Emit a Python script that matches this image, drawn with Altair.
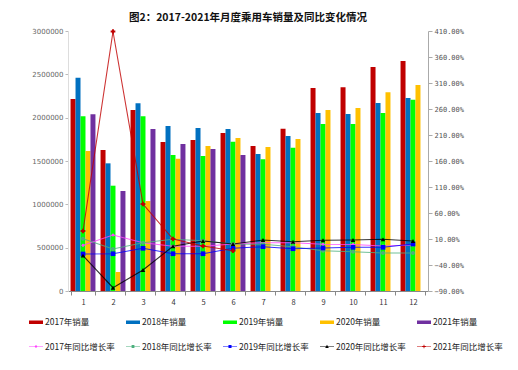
import altair as alt
import pandas as pd

months = list(range(1, 13))
years = ["2017", "2018", "2019", "2020", "2021"]

sales_2017 = [2215000, 1627000, 2088000, 1719000, 1742000, 1823000, 1673000, 1873000, 2342000, 2350000, 2585000, 2654000]
sales_2018 = [2460000, 1473000, 2165000, 1904000, 1881000, 1869000, 1581000, 1788000, 2054000, 2042000, 2169000, 2227000]
sales_2019 = [2015000, 1215000, 2015000, 1569000, 1558000, 1723000, 1520000, 1654000, 1927000, 1927000, 2054000, 2208000]
sales_2020 = [1615000, 219000, 1038000, 1527000, 1673000, 1765000, 1661000, 1754000, 2088000, 2112000, 2292000, 2377000]
sales_2021 = [2040000, 1154000, 1869000, 1696000, 1638000, 1569000]

rate_2017 = [-2.1, 17.7, 2.9, -4.0, -4.0, 0.4, 2.9, 2.9, -0.2, -0.5, -3.5, -1.5]
rate_2018 = [10.6, -9.2, 2.9, 9.4, 6.7, 0.4, -0.2, -4.8, -12.5, -14.4, -16.9, -16.9]
rate_2019 = [-18.8, -18.3, -7.9, -18.3, -18.3, -7.9, -4.8, -8.7, -7.3, -6.0, -6.0, 0.4]
rate_2020 = [-22.0, -83.7, -49.6, -4.0, 6.2, 0.4, 8.0, 4.8, 7.5, 8.0, 9.4, 6.2]
rate_2021 = [25.4, 409.0, 77.3, 10.0, -3.5, -12.5]

sales_labels = [f"{y}年销量" for y in years]
rate_labels = [f"{y}年同比增长率" for y in years]
bar_colors = ["#C00000", "#0070C0", "#00FF00", "#FFC000", "#7030A0"]
line_colors = ["#FF44FF", "#4DB07E", "#0000FF", "#000000", "#C00000"]

sales_lists = [sales_2017, sales_2018, sales_2019, sales_2020, sales_2021]
rate_lists = [rate_2017, rate_2018, rate_2019, rate_2020, rate_2021]

bar_rows = []
for y, lab, vals in zip(years, sales_labels, sales_lists):
    for m, v in zip(months, vals):
        bar_rows.append({"month": m, "year": y, "value": v, "series": lab})
bar_df = pd.DataFrame(bar_rows)

rate_rows = []
for y, lab, vals in zip(years, rate_labels, rate_lists):
    for m, v in zip(months, vals):
        rate_rows.append({"month": m, "year": y, "rate": v, "series": lab})
rate_df = pd.DataFrame(rate_rows)

all_labels = sales_labels + rate_labels
legend_df = pd.DataFrame({"series": all_labels})

rect_path = "M-1,-0.25H1V0.25H-1Z"
line_path = "M-1,-0.05H1V0.05H-1Z"
legend_shapes = [rect_path] * 5 + [
    line_path + " M0,-0.22L0.22,0L0,0.22L-0.22,0Z",
    line_path + " M-0.2,-0.2H0.2V0.2H-0.2Z",
    line_path + " M-0.22,-0.22H0.22V0.22H-0.22Z",
    line_path + " M0,-0.26L0.26,0.2L-0.26,0.2Z",
    line_path + " M-0.26,-0.06H0.26V0.06H-0.26Z M-0.06,-0.26H0.06V0.26H-0.06Z",
]
marker_shapes = ["diamond", "circle", "square", "triangle-up", "cross"]
marker_sizes = [14, 16, 22, 20, 22]

FONT = "Noto Sans CJK SC"

x_enc = alt.X(
    "month:O",
    scale=alt.Scale(paddingInner=0.17, paddingOuter=0.085),
    axis=alt.Axis(
        title=None, labelAngle=0, labelFontSize=7.5, labelColor="#333",
        labelFont=FONT, domainColor="#888", tickColor="#888", tickSize=4,
        tickBand="extent", labelPadding=3, grid=False,
    ),
)

bars = alt.Chart(bar_df).mark_bar().encode(
    x=x_enc,
    xOffset=alt.XOffset("year:N", scale=alt.Scale(domain=years, paddingInner=0)),
    y=alt.Y(
        "value:Q",
        scale=alt.Scale(domain=[0, 3000000], nice=False),
        axis=alt.Axis(
            title=None, orient="left", values=[0, 500000, 1000000, 1500000, 2000000, 2500000, 3000000],
            format="d", labelFontSize=7, labelColor="#666", labelFont="DejaVu Sans",
            domainColor="#ddd", tickColor="#bbb", tickSize=3, grid=False, labelPadding=2,
        ),
    ),
    fill=alt.Fill("series:N", scale=alt.Scale(domain=sales_labels, range=bar_colors), legend=None),
)

y_rate = alt.Y(
    "rate:Q",
    scale=alt.Scale(domain=[-90, 410], nice=False),
    axis=alt.Axis(
        title=None, orient="right",
        values=[-90, -40, 10, 60, 110, 160, 210, 260, 310, 360, 410],
        labelExpr="format(datum.value, '.2f') + '%'",
        labelFontSize=7, labelColor="#555", labelFont="DejaVu Sans Mono",
        domainColor="#aaa", tickColor="#aaa", tickSize=4, grid=False, labelPadding=2,
    ),
)

lines = alt.Chart(rate_df).mark_line(strokeWidth=1.1, opacity=0.8).encode(
    x=x_enc,
    y=y_rate,
    stroke=alt.Stroke("series:N", scale=alt.Scale(domain=rate_labels, range=line_colors), legend=None),
)

marker_layers = []
for lab, shp, sz, col in zip(rate_labels, marker_shapes, marker_sizes, line_colors):
    marker_layers.append(
        alt.Chart(rate_df)
        .transform_filter(alt.datum.series == lab)
        .mark_point(shape=shp, size=sz, filled=True, color=col, opacity=1)
        .encode(x=x_enc, y=y_rate)
    )

leg = alt.Legend(
    title=None, orient="none", legendX=-39, legendY=284, columns=5,
    direction="horizontal",
    columnPadding=11, rowPadding=12.5, symbolSize=196, symbolStrokeWidth=0,
    labelFontSize=8.5, labelFont=FONT, labelColor="#222", labelOffset=2,
    symbolOpacity=1,
)

legend_layer = alt.Chart(legend_df).mark_point(filled=True, opacity=0).encode(
    color=alt.Color("series:N", scale=alt.Scale(domain=all_labels, range=bar_colors + line_colors), legend=leg),
    shape=alt.Shape("series:N", scale=alt.Scale(domain=all_labels, range=legend_shapes), legend=leg),
)

inner = alt.layer(lines, *marker_layers, legend_layer)

chart = (
    alt.layer(bars, inner)
    .resolve_scale(y="independent")
    .properties(
        width=360,
        height=260,
        title=alt.TitleParams(
            "图2：2017-2021年月度乘用车销量及同比变化情况",
            fontSize=10.5, fontWeight="bold", font=FONT, color="#111",
            anchor="middle", offset=4,
        ),
        autosize=alt.AutoSizeParams(type="none"),
        padding={"left": 60, "top": 23, "right": 82, "bottom": 70},
    )
    .configure_view(stroke=None)
)

chart.save("out.html", embed_options={"renderer": "svg", "actions": False})
